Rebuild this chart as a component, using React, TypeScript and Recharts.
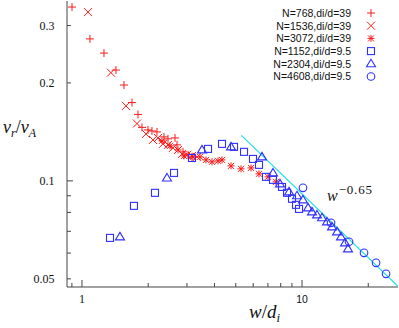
import React from 'react'
import { ScatterChart, Scatter, XAxis, YAxis } from 'recharts'

const RED = '#ff1a1a'
const BLUE = '#3030ff'
const CYAN = '#22e0ea'
const AXIS = '#444'
const SERIF = '"Liberation Serif", "DejaVu Serif", serif'
const SANS = '"Liberation Sans", Arial, sans-serif'

// N=768, di/d=39
const n768X = [0.901, 1.087, 1.259, 1.427, 1.552, 1.688, 1.797, 1.874, 1.995, 2.08, 2.192, 2.359, 2.46, 2.647, 2.703, 2.878, 3.033, 3.162]
const n768Y = [0.342, 0.273, 0.247, 0.219, 0.197, 0.174, 0.16, 0.146, 0.1434, 0.1424, 0.1414, 0.1365, 0.1346, 0.1355, 0.129, 0.1228, 0.1202, 0.1185]

// N=1536, di/d=39
const n1536X = [1.065, 1.354, 1.585, 1.778, 1.954, 2.102, 2.215, 2.334, 2.46, 2.592, 2.732, 2.848, 3.001, 3.162, 3.333]
const n1536Y = [0.33, 0.215, 0.17, 0.15, 0.1394, 0.1336, 0.1355, 0.1299, 0.129, 0.1263, 0.1245, 0.121, 0.1202, 0.1193, 0.1185]

// N=3072, di/d=39
const n3072X = [2.31, 2.512, 2.732, 2.908, 3.197, 3.439, 3.661, 3.898, 4.151, 4.329, 4.757, 5.281, 5.864, 6.376, 7.006, 7.617]
const n3072Y = [0.1327, 0.1281, 0.1245, 0.1193, 0.1185, 0.1185, 0.116, 0.1144, 0.1152, 0.116, 0.1112, 0.1089, 0.1096, 0.1051, 0.1029, 0.0993]

// N=1152, di/d=9.5
const n1152X = [1.341, 1.723, 2.147, 2.62, 3.162, 3.74, 4.329, 4.908, 5.451, 5.987, 6.376, 6.861, 7.382, 8.111, 8.549, 9.006, 9.391, 9.692]
const n1152Y = [0.0668, 0.0838, 0.0919, 0.1058, 0.1176, 0.1254, 0.1299, 0.1272, 0.1228, 0.1168, 0.112, 0.1029, 0.1007, 0.0958, 0.0919, 0.0881, 0.0844, 0.082]

// N=2304, di/d=9.5
const n2304X = [1.488, 2.434, 3.511, 4.757, 6.579, 7.382, 7.943, 8.73, 9.49, 10.1, 10.65, 11.1, 11.7, 12.33, 12.99, 13.69, 14.43, 15.04, 15.69, 16.18]
const n2304Y = [0.0673, 0.1021, 0.1245, 0.1272, 0.1185, 0.1058, 0.0979, 0.0925, 0.09, 0.0874, 0.0826, 0.0803, 0.0786, 0.077, 0.0748, 0.0722, 0.0697, 0.0673, 0.0645, 0.0618]

// N=4608, di/d=9.5
const n4608X = [10.1, 13.55, 16.35, 19.13, 21.7, 24.09]
const n4608Y = [0.0952, 0.0743, 0.065, 0.0601, 0.056, 0.0518]

// power-law guide w^-0.65
const fitX = [5.3, 27.3]
const fitY = [0.138, 0.0474]

const xTicks = [0.9, 1, 2, 3, 4, 5, 6, 7, 8, 9, 10, 20]
const yTicks = [0.05, 0.06, 0.07, 0.08, 0.09, 0.1, 0.2, 0.3]
const xMajor = [1, 10]
const yMajor = [0.1]
const yLabels: Record<string, string> = { '0.05': '0.05', '0.1': '0.1', '0.2': '0.2', '0.3': '0.3' }

const legendNames = ['N=768,di/d=39', 'N=1536,di/d=39', 'N=3072,di/d=39', 'N=1152,di/d=9.5', 'N=2304,di/d=9.5', 'N=4608,di/d=9.5']

const zip = (xs: number[], ys: number[]) => xs.map((x, i) => ({ x, y: ys[i] }))

type M = { cx: number; cy: number; c: string }
const PlusM = ({ cx, cy, c }: M) => (
  <path d={`M${cx - 4},${cy}H${cx + 4}M${cx},${cy - 4}V${cy + 4}`} stroke={c} strokeWidth={1} fill="none" />
)
const CrossM = ({ cx, cy, c }: M) => (
  <path d={`M${cx - 4},${cy - 4}L${cx + 4},${cy + 4}M${cx - 4},${cy + 4}L${cx + 4},${cy - 4}`} stroke={c} strokeWidth={1} fill="none" />
)
const StarM = ({ cx, cy, c }: M) => (
  <path
    d={`M${cx - 3.5},${cy}H${cx + 3.5}M${cx},${cy - 3.5}V${cy + 3.5}M${cx - 3},${cy - 3}L${cx + 3},${cy + 3}M${cx - 3},${cy + 3}L${cx + 3},${cy - 3}`}
    stroke={c} strokeWidth={1} fill="none"
  />
)
const SquareM = ({ cx, cy, c }: M) => (
  <rect x={cx - 3.5} y={cy - 3.5} width={7} height={7} stroke={c} strokeWidth={1.1} fill="none" />
)
const TriM = ({ cx, cy, c }: M) => (
  <path d={`M${cx},${cy - 4.5}L${cx + 4.5},${cy + 3}L${cx - 4.5},${cy + 3}Z`} stroke={c} strokeWidth={1.1} fill="none" />
)
const CircM = ({ cx, cy, c }: M) => <circle cx={cx} cy={cy} r={3.8} stroke={c} strokeWidth={1.1} fill="none" />

const series = [
  { name: legendNames[0], data: zip(n768X, n768Y), M: PlusM, c: RED },
  { name: legendNames[1], data: zip(n1536X, n1536Y), M: CrossM, c: RED },
  { name: legendNames[2], data: zip(n3072X, n3072Y), M: StarM, c: RED },
  { name: legendNames[3], data: zip(n1152X, n1152Y), M: SquareM, c: BLUE },
  { name: legendNames[4], data: zip(n2304X, n2304Y), M: TriM, c: BLUE },
  { name: legendNames[5], data: zip(n4608X, n4608Y), M: CircM, c: BLUE },
]

const BottomTick = (p: any) => {
  const v = p.payload.value
  const major = xMajor.includes(v)
  return (
    <g>
      <line x1={p.x} x2={p.x} y1={p.y} y2={p.y - (major ? 7 : 4)} stroke={AXIS} />
      {v === 1 && (
        <text x={p.x} y={p.y + 16} textAnchor="middle" fontFamily={SERIF} fontSize={12} fill="#111">1</text>
      )}
      {v === 10 && (
        <text x={p.x} y={p.y + 16} textAnchor="middle" fontFamily={SANS} fontSize={10.5} fill="#111">10</text>
      )}
    </g>
  )
}

const TopTick = (p: any) => {
  const major = xMajor.includes(p.payload.value)
  return <line x1={p.x} x2={p.x} y1={p.y} y2={p.y + (major ? 7 : 4)} stroke={AXIS} />
}

const LeftTick = (p: any) => {
  const v = p.payload.value
  const major = yMajor.includes(v)
  const label = yLabels[String(v)]
  return (
    <g>
      <line x1={p.x} x2={p.x + (major ? 6 : 4)} y1={p.y} y2={p.y} stroke={AXIS} />
      {label && (
        <text x={p.x - 12.5} y={p.y + 4.5} textAnchor="end" fontFamily={SERIF} fontSize={12} fill="#111">{label}</text>
      )}
    </g>
  )
}

const RightTick = (p: any) => {
  const major = yMajor.includes(p.payload.value)
  return <line x1={p.x} x2={p.x - (major ? 6 : 4)} y1={p.y} y2={p.y} stroke={AXIS} />
}

export default function App() {
  return (
    <div style={{ position: 'absolute', left: 0, top: 0, width: 399, height: 328, background: '#fff' }}>
      <ScatterChart width={399} height={328} margin={{ top: 1, right: 1, bottom: 0, left: 0 }}>
        <XAxis
          dataKey="x" type="number" scale="log" domain={[0.855, 27.3]} allowDataOverflow
          ticks={xTicks} interval={0} tick={BottomTick} tickLine={false} tickSize={0} tickMargin={0}
          height={41} axisLine={{ stroke: AXIS }}
        />
        <XAxis
          xAxisId="top" orientation="top" dataKey="x" type="number" scale="log" domain={[0.855, 27.3]} allowDataOverflow
          ticks={xTicks} interval={0} tick={TopTick} tickLine={false} tickSize={0} tickMargin={0}
          height={0} axisLine={{ stroke: AXIS }}
        />
        <YAxis
          dataKey="y" type="number" scale="log" domain={[0.0472, 0.357]} allowDataOverflow
          ticks={yTicks} interval={0} tick={LeftTick} tickLine={false} tickSize={0} tickMargin={0}
          width={67} axisLine={{ stroke: AXIS }}
        />
        <YAxis
          yAxisId="right" orientation="right" dataKey="y" type="number" scale="log" domain={[0.0472, 0.357]} allowDataOverflow
          ticks={yTicks} interval={0} tick={RightTick} tickLine={false} tickSize={0} tickMargin={0}
          width={0} axisLine={{ stroke: AXIS }}
        />
        <Scatter
          data={zip(fitX, fitY)} line={{ stroke: CYAN, strokeWidth: 1.3 }} shape={() => <g />}
          isAnimationActive={false}
        />
        {series.map((s) => (
          <Scatter
            key={s.name} name={s.name} data={s.data} isAnimationActive={false}
            shape={(p: any) => <s.M cx={p.cx} cy={p.cy} c={s.c} />}
          />
        ))}
      </ScatterChart>
      <svg width={399} height={328} style={{ position: 'absolute', left: 0, top: 0, pointerEvents: 'none' }}>
        {series.map((s, i) => (
          <g key={s.name}>
            <text x={351} y={16.8 + 12.7 * i} textAnchor="end" fontFamily={SANS} fontSize={10.5} fill="#111">{s.name}</text>
            <s.M cx={371} cy={13 + 12.7 * i} c={s.c} />
          </g>
        ))}
        <text x={3} y={133} fontFamily={SERIF} fontSize={18} fontStyle="italic" fill="#111">
          v<tspan fontSize={12} dy={4}>r</tspan>
          <tspan fontSize={18} dy={-4} fontStyle="normal">/</tspan>
          <tspan fontSize={18}>v</tspan>
          <tspan fontSize={12} dy={4}>A</tspan>
        </text>
        <text x={249} y={318} fontFamily={SERIF} fontSize={19} fontStyle="italic" fill="#111">
          w<tspan fontStyle="normal">/</tspan>d<tspan fontSize={13} dy={4}>i</tspan>
        </text>
        <text x={327} y={201} fontFamily={SERIF} fontSize={16} fontStyle="italic" fill="#111">
          w<tspan fontSize={13} dy={-7} dx={1} fontStyle="normal" letterSpacing={0.8}>−0.65</tspan>
        </text>
      </svg>
    </div>
  )
}
